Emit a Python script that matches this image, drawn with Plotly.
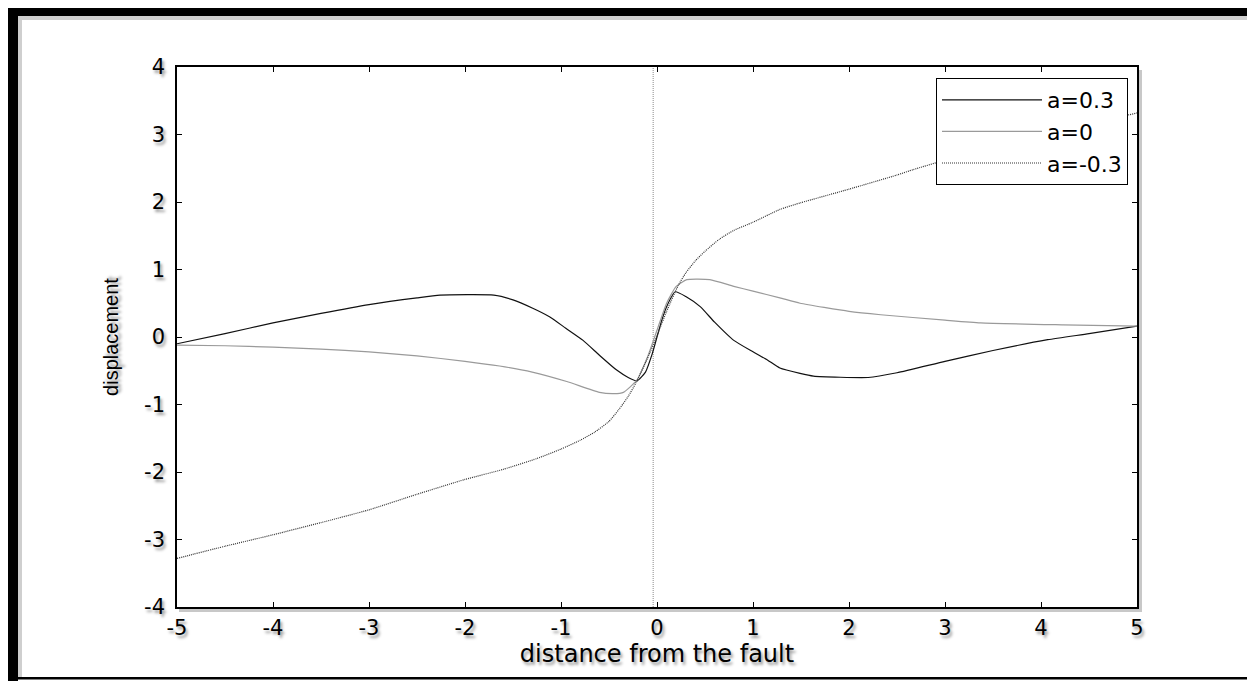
import plotly.graph_objects as go

# ---- data ----
x_pos = [-5, -4.5, -4, -3.5, -3, -2.5, -2, -1.6, -1.25, -1, -0.8, -0.65, -0.5, -0.4,
         -0.3, -0.22, -0.1, 0, 0.1, 0.22, 0.3, 0.4, 0.5, 0.65, 0.8, 1, 1.28, 1.5, 2,
         2.5, 2.67, 3, 3.5, 4, 4.5, 5]
y_neg03 = [-3.28, -3.10, -2.93, -2.75, -2.56, -2.33, -2.11, -1.96, -1.80, -1.66, -1.53,
           -1.41, -1.25, -1.08, -0.88, -0.68, -0.32, 0.02, 0.38, 0.76, 0.95, 1.13, 1.27,
           1.45, 1.58, 1.70, 1.89, 1.99, 2.19, 2.40, 2.48, 2.62, 2.80, 2.98, 3.15, 3.32]

x_a03 = [-5, -4.5, -4, -3.5, -3, -2.5, -2.26, -1.7, -1.5, -1.3, -1.12, -0.95, -0.77,
         -0.6, -0.42, -0.3, -0.21, -0.12, -0.05, 0, 0.05, 0.1, 0.19, 0.3, 0.45, 0.6,
         0.8, 1.0, 1.15, 1.28, 1.49, 1.63, 2.2, 2.5, 3.0, 3.5, 4.07, 4.5, 5]
y_a03 = [-0.10, 0.05, 0.21, 0.35, 0.48, 0.58, 0.62, 0.62, 0.55, 0.43, 0.30, 0.13, -0.05,
         -0.27, -0.49, -0.60, -0.65, -0.52, -0.25, 0.0, 0.25, 0.45, 0.67, 0.60, 0.45,
         0.22, -0.05, -0.22, -0.34, -0.46, -0.54, -0.58, -0.60, -0.53, -0.36, -0.20,
         -0.04, 0.05, 0.16]

x_a0 = [-5, -4.5, -4, -3.5, -3, -2.5, -2, -1.64, -1.3, -0.94, -0.6, -0.45, -0.35,
        -0.21, -0.1, 0, 0.1, 0.2, 0.31, 0.55, 0.8, 1.0, 1.28, 1.49, 2.0, 2.33, 3.0,
        3.37, 4.23, 5]
y_a0 = [-0.12, -0.13, -0.15, -0.18, -0.22, -0.28, -0.36, -0.43, -0.52, -0.66, -0.82,
        -0.84, -0.82, -0.64, -0.30, 0.10, 0.50, 0.75, 0.85, 0.85, 0.75, 0.68, 0.58,
        0.50, 0.38, 0.33, 0.25, 0.21, 0.18, 0.16]

fault_x = [-0.04, -0.04]
fault_y = [-4, 4]

x_ticks = [-5, -4, -3, -2, -1, 0, 1, 2, 3, 4, 5]
y_ticks = [-4, -3, -2, -1, 0, 1, 2, 3, 4]

WIDE = "DejaVu Sans, Verdana, sans-serif"
ARIAL = "Liberation Sans, Arial, sans-serif"
SHADOW = "2px 3px 3px #9a9a9a"

fig = go.Figure()
fig.add_trace(go.Scatter(x=fault_x, y=fault_y, mode="lines", showlegend=False,
                         line=dict(color="#8a8a8a", width=1, dash="1px,1px"),
                         hoverinfo="skip"))
fig.add_trace(go.Scatter(x=x_a03, y=y_a03, mode="lines", name="a=0.3",
                         line=dict(color="#111111", width=1.2, shape="spline", smoothing=0.5)))
fig.add_trace(go.Scatter(x=x_a0, y=y_a0, mode="lines", name="a=0",
                         line=dict(color="#9a9a9a", width=1.2, shape="spline", smoothing=0.5)))
fig.add_trace(go.Scatter(x=x_pos, y=y_neg03, mode="lines", name="a=-0.3",
                         line=dict(color="#333333", width=1.2, dash="1px,1px",
                                   shape="spline", smoothing=0.5)))

# plot area: px 177..1137 (x), 67..607 (y)
W, H = 1247, 681
L, R, T, B = 177, 1137, 67, 607
pw, ph = R - L, B - T

def px(xp):
    return (xp - L) / pw

def py(yp):
    return (B - yp) / ph

shapes = [
    # black frame: left bar, top bar, bottom line
    dict(type="rect", xref="paper", yref="paper", x0=px(8), x1=px(18), y0=py(681), y1=py(8),
         fillcolor="black", line_width=0, layer="above"),
    dict(type="rect", xref="paper", yref="paper", x0=px(8), x1=px(1247), y0=py(16), y1=py(8),
         fillcolor="black", line_width=0, layer="above"),
    dict(type="rect", xref="paper", yref="paper", x0=px(8), x1=px(1247), y0=py(679.5), y1=py(677),
         fillcolor="black", line_width=0, layer="above"),
    # soft shadows inside frame
    dict(type="rect", xref="paper", yref="paper", x0=px(18), x1=px(1247), y0=py(20), y1=py(16),
         fillcolor="#cfcfcf", line_width=0, layer="below"),
    dict(type="rect", xref="paper", yref="paper", x0=px(18), x1=px(22), y0=py(677), y1=py(16),
         fillcolor="#cfcfcf", line_width=0, layer="below"),
    # axis drop shadows
    dict(type="rect", xref="paper", yref="paper", x0=px(179), x1=px(1141), y0=py(612), y1=py(608),
         fillcolor="#c8c8c8", line_width=0, layer="below"),
    dict(type="rect", xref="paper", yref="paper", x0=px(1138), x1=px(1142), y0=py(612), y1=py(70),
         fillcolor="#c8c8c8", line_width=0, layer="below"),
]

fig.update_layout(
    width=W, height=H,
    margin=dict(l=L, r=W - R, t=T, b=H - B, autoexpand=False),
    paper_bgcolor="white", plot_bgcolor="white",
    font=dict(family=WIDE, size=20, color="black"),
    shapes=shapes,
    showlegend=True,
    legend=dict(x=1 - (1137 - 1128) / pw, xanchor="right", y=1 - (78 - 67) / ph, yanchor="top",
                bgcolor="white", bordercolor="black", borderwidth=1,
                font=dict(family=WIDE, size=22, color="black"),
                itemwidth=100, tracegroupgap=0),
    xaxis=dict(range=[-5, 5], tickmode="array", tickvals=x_ticks,
               ticktext=[str(v) for v in x_ticks],
               showgrid=False, zeroline=False, showline=True, linecolor="black", linewidth=1.5,
               mirror="allticks", ticks="inside", ticklen=5, tickcolor="black",
               tickfont=dict(family=WIDE, size=21, shadow=SHADOW), ticklabelstandoff=1,
               title=dict(text="distance from the fault", standoff=1,
                          font=dict(family=WIDE, size=24, shadow=SHADOW))),
    yaxis=dict(range=[-4, 4], tickmode="array", tickvals=y_ticks,
               ticktext=[str(v) for v in y_ticks],
               showgrid=False, zeroline=False, showline=True, linecolor="black", linewidth=1.5,
               mirror="allticks", ticks="inside", ticklen=5, tickcolor="black",
               tickfont=dict(family=WIDE, size=21, shadow=SHADOW), ticklabelstandoff=6,
               title=dict(text="displacement", standoff=20,
                          font=dict(family=ARIAL, size=20, shadow=SHADOW))),
)

fig.write_html("out.html")
